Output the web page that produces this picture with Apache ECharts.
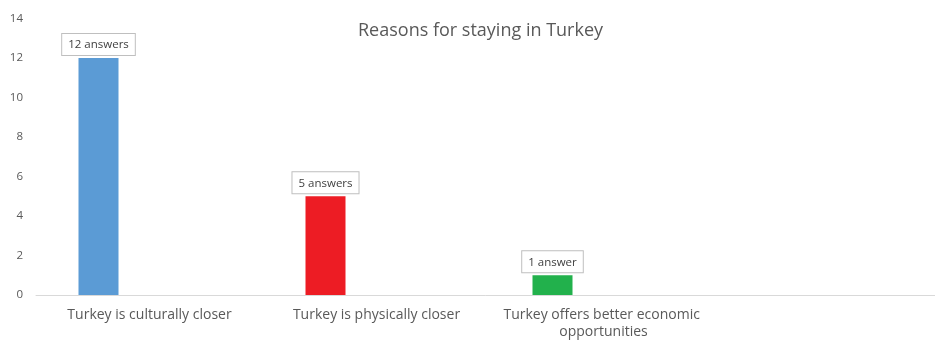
<!DOCTYPE html>
<html>
<head>
<meta charset="utf-8">
<script src="https://cdn.jsdelivr.net/npm/echarts@6/dist/echarts.min.js"></script>
<style>
  html, body { margin: 0; padding: 0; background: #fff; }
  #chart { width: 935px; height: 341px; }
</style>
</head>
<body>
<div id="chart"></div>
<script>
// Survey answers: why respondents chose to stay in Turkey
const categories = [
  'Turkey is culturally closer',
  'Turkey is physically closer',
  'Turkey offers better economic opportunities',
  ''
];
const answers = [12, 5, 1, null];
const barColors = ['#5b9bd5', '#ed1c24', '#22b14c', '#5b9bd5'];
const yTicks = { min: 0, max: 14, interval: 2 };

const font = '"Open Sans", "Noto Sans", sans-serif';
const textColor = '#595959';

const chart = echarts.init(document.getElementById('chart'));
chart.setOption({
  animation: false,
  title: {
    text: 'Reasons for staying in Turkey',
    left: 353,
    top: 17,
    textStyle: { fontFamily: font, fontSize: 18, fontWeight: 'normal', color: textColor }
  },
  // the plot area runs a little past the right edge of the canvas
  grid: {
    left: 36, width: 908, top: 18.5, bottom: 46,
    containLabel: false, outerBoundsMode: 'none'
  },
  xAxis: {
    type: 'category',
    data: categories,
    axisLine: { lineStyle: { color: '#d9d9d9', width: 1 } },
    axisTick: { show: false },
    axisLabel: {
      interval: 0,
      margin: 12,
      color: textColor,
      fontFamily: font,
      fontSize: 14,
      lineHeight: 17,
      width: 250,
      overflow: 'break'
    }
  },
  yAxis: {
    type: 'value',
    min: yTicks.min,
    max: yTicks.max,
    interval: yTicks.interval,
    axisLine: { show: false },
    axisTick: { show: false },
    splitLine: { show: false },
    axisLabel: { margin: 13, color: textColor, fontFamily: font, fontSize: 11.5 }
  },
  series: [
    {
      type: 'bar',
      barWidth: 40,
      barGap: '155%',
      data: answers.map((v, i) => ({ value: v, itemStyle: { color: barColors[i] } })),
      label: {
        show: true,
        position: 'top',
        distance: 3,
        formatter: p => p.value + (p.value === 1 ? ' answer' : ' answers'),
        fontFamily: font,
        fontSize: 11.5,
        color: '#404040',
        backgroundColor: '#fff',
        borderColor: '#bfbfbf',
        borderWidth: 1,
        padding: [5, 6, 4, 6]
      }
    },
    {
      type: 'bar',
      barWidth: 40,
      data: answers.map(() => '-')
    }
  ]
});
</script>
</body>
</html>
